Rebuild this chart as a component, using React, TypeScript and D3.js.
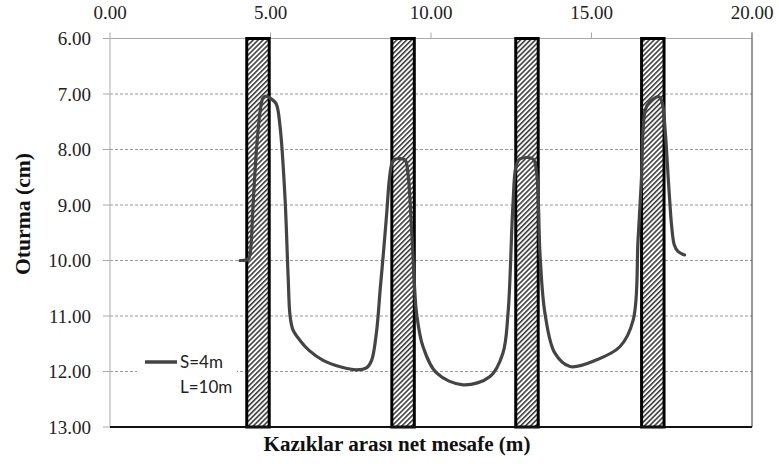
import React from "react";
import * as d3 from "d3";

const xTicks = [0, 5, 10, 15, 20];
const yTicks = [6, 7, 8, 9, 10, 11, 12, 13];
const gridLines = [7, 8, 9, 10, 11, 12];
const pileLeft = [4.26, 8.78, 12.64, 16.56];
const pileWidth = 0.7;
const curveX = [4.05, 4.3, 4.36, 4.46, 4.57, 4.67, 4.76, 4.85, 5.05, 5.18, 5.3, 5.45, 5.55, 5.61, 5.7, 5.92, 6.2, 6.64, 7.2, 7.68, 8.0, 8.15, 8.3, 8.42, 8.52, 8.62, 8.71, 8.8, 8.9, 9.19, 9.28, 9.4, 9.5, 9.55, 9.75, 10.18, 11.0, 11.84, 12.24, 12.4, 12.55, 12.65, 12.77, 13.18, 13.29, 13.4, 13.55, 13.86, 14.33, 15.16, 15.89, 16.3, 16.45, 16.55, 16.67, 16.8, 17.1, 17.2, 17.3, 17.4, 17.5, 17.58, 17.7, 17.9];
const curveY = [10.0, 9.98, 9.9, 8.96, 7.95, 7.34, 7.08, 7.04, 7.1, 7.18, 7.6, 8.85, 10.3, 11.0, 11.25, 11.44, 11.62, 11.8, 11.92, 11.97, 11.93, 11.8, 11.3, 10.5, 9.85, 9.15, 8.5, 8.22, 8.17, 8.19, 8.42, 9.5, 10.6, 10.95, 11.55, 12.03, 12.24, 12.09, 11.67, 10.95, 9.03, 8.3, 8.17, 8.17, 8.42, 9.93, 10.95, 11.67, 11.91, 11.79, 11.55, 11.07, 9.63, 8.6, 7.3, 7.15, 7.05, 7.15, 7.7, 8.6, 9.4, 9.72, 9.84, 9.9];
const legendLabel = ["S=4m", "L=10m"];
const xTitle = "Kazıklar arası net mesafe (m)";
const yTitle = "Oturma (cm)";

export default function App() {
  const W = 779, H = 464;
  const x = d3.scaleLinear().domain([0, 20]).range([110, 752]);
  const y = d3.scaleLinear().domain([6, 13]).range([38.5, 427]);
  const pts: [number, number][] = curveX.map((v, i) => [v, curveY[i]]);
  const line = d3.line<[number, number]>().x(d => x(d[0])).y(d => y(d[1])).curve(d3.curveCatmullRom.alpha(0.5));
  const serif = "'Liberation Serif', 'Times New Roman', serif";
  const sans = "Lato, 'Open Sans', sans-serif";
  return (
    <svg width={W} height={H} style={{ position: "absolute", left: 0, top: 0, background: "#fff" }}>
      <defs>
        <pattern id="hatch" patternUnits="userSpaceOnUse" width="3.5" height="3.5" patternTransform="rotate(45)">
          <rect width="3.5" height="3.5" fill="#fff" />
          <line x1="0.8" y1="0" x2="0.8" y2="3.5" stroke="#222" strokeWidth="1.4" />
        </pattern>
      </defs>
      <rect x={0} y={0} width={W} height={H} fill="#fff" />
      {gridLines.map(g => (
        <line key={g} x1={x(0)} x2={x(20)} y1={y(g)} y2={y(g)} stroke="#999" strokeDasharray="3,2" strokeWidth={1} />
      ))}
      <line x1={x(0)} x2={x(20)} y1={y(6)} y2={y(6)} stroke="#aaa" strokeWidth={1} />
      <line x1={x(0)} x2={x(0)} y1={y(6)} y2={y(13)} stroke="#aaa" strokeWidth={1} />
      <line x1={x(20)} x2={x(20)} y1={y(6) - 6} y2={y(13)} stroke="#333" strokeWidth={1} />
      {xTicks.map(t => (
        <g key={t}>
          <line x1={x(t)} x2={x(t)} y1={y(6) - 6} y2={y(6)} stroke="#aaa" />
          <text x={x(t)} y={19} textAnchor="middle" fontFamily={serif} fontSize={19} fill="#222">{t.toFixed(2)}</text>
        </g>
      ))}
      {yTicks.map(t => (
        <g key={t}>
          <line x1={x(0) - 7} x2={x(0)} y1={y(t)} y2={y(t)} stroke="#aaa" />
          <text x={91} y={y(t) + 6.5} textAnchor="end" fontFamily={serif} fontSize={19} fill="#222">{t.toFixed(2)}</text>
        </g>
      ))}
      {pileLeft.map(p => (
        <rect key={p} x={x(p)} y={y(6)} width={x(p + pileWidth) - x(p)} height={y(13) - y(6)} fill="url(#hatch)" stroke="#000" strokeWidth={3} />
      ))}
      <line x1={x(0)} x2={x(20)} y1={y(13)} y2={y(13)} stroke="#111" strokeWidth={2} />
      <path d={line(pts) || ""} fill="none" stroke="#444" strokeWidth={3.2} strokeLinejoin="round" strokeLinecap="round" />
      <rect x={137} y={350} width={100} height={50} fill="#fff" />
      <line x1={145} x2={177} y1={362} y2={362} stroke="#444" strokeWidth={3.5} />
      <text x={180} y={368} fontFamily={sans} fontSize={17} fill="#222">{legendLabel[0]}</text>
      <text x={180} y={393} fontFamily={sans} fontSize={17} fill="#222">{legendLabel[1]}</text>
      <text x={397} y={451} textAnchor="middle" fontFamily={serif} fontWeight="bold" fontSize={20} textLength={267} lengthAdjust="spacingAndGlyphs" fill="#111">{xTitle}</text>
      <text transform={`translate(30,214) rotate(-90)`} textAnchor="middle" fontFamily={serif} fontWeight="bold" fontSize={20} textLength={122} lengthAdjust="spacingAndGlyphs" fill="#111">{yTitle}</text>
    </svg>
  );
}
